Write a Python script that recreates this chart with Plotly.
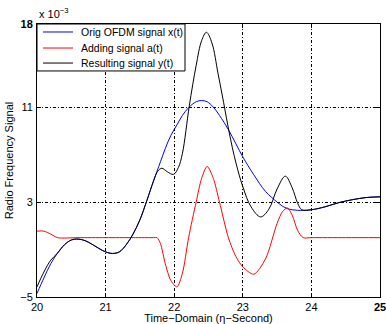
import plotly.graph_objects as go

# Signal samples (amplitude in units of 1e-3) over time (ns)
t_x = [20.0, 20.1, 20.2, 20.3, 20.4, 20.5, 20.6, 20.7, 20.8, 20.9, 21.0, 21.1,
       21.2, 21.3, 21.4, 21.5, 21.6, 21.7, 21.75, 21.8, 21.87, 21.95, 22.04,
       22.12, 22.21, 22.32, 22.4, 22.48, 22.57, 22.66, 22.79, 22.9, 23.0,
       23.16, 23.33, 23.5, 23.58, 23.65, 23.72, 23.8, 23.88, 24.0, 24.2, 24.4,
       24.6, 24.8, 25.0]
x_sig = [-4.7, -3.4, -2.2, -1.3, -0.6, -0.2, -0.12, -0.25, -0.55, -0.9, -1.2,
         -1.33, -1.2, -0.6, 0.3, 1.5, 3.1, 4.8, 5.6, 6.4, 7.5, 8.6, 9.5, 10.3,
         10.95, 11.45, 11.55, 11.45, 11.0, 10.3, 9.1, 7.9, 6.8, 5.3, 3.9, 3.0,
         2.65, 2.45, 2.35, 2.3, 2.3, 2.35, 2.6, 2.95, 3.2, 3.38, 3.44]

t_a = [20.0, 20.1, 20.2, 20.3, 20.6, 21.0, 21.4, 21.7, 21.75, 21.8, 21.87,
       21.95, 22.04, 22.12, 22.21, 22.32, 22.4, 22.48, 22.57, 22.66, 22.79,
       22.9, 23.0, 23.16, 23.33, 23.5, 23.58, 23.65, 23.72, 23.8, 23.88, 24.0,
       24.5, 25.0]
a_sig = [0.55, 0.55, 0.3, 0.0, 0.0, 0.0, 0.0, 0.0, 0.0, -0.5, -2.2, -3.6,
         -4.15, -3.0, 0.0, 3.0, 5.0, 6.0, 5.0, 3.0, 0.0, -1.6, -2.46, -3.08,
         -1.8, 1.2, 2.2, 2.5, 1.9, 0.6, 0.0, 0.0, 0.0, 0.0]

t_y = [20.0, 20.1, 20.2, 20.3, 20.4, 20.5, 20.6, 20.7, 20.8, 20.9, 21.0, 21.1,
       21.2, 21.3, 21.4, 21.5, 21.6, 21.7, 21.76, 21.82, 21.9, 21.99, 22.06,
       22.12, 22.22, 22.32, 22.4, 22.47, 22.55, 22.64, 22.72, 22.8, 22.9, 23.0,
       23.12, 23.26, 23.38, 23.5, 23.62, 23.72, 23.8, 23.86, 24.0, 24.2, 24.4,
       24.6, 24.8, 25.0]
y_sig = [-4.15, -2.9, -1.9, -1.3, -0.6, -0.2, -0.12, -0.25, -0.55, -0.9, -1.2,
         -1.33, -1.2, -0.6, 0.3, 1.5, 3.1, 4.8, 5.6, 5.85, 5.55, 5.33, 5.9,
         7.1, 11.1, 14.5, 16.6, 17.3, 16.4, 13.8, 11.4, 8.9, 6.3, 4.3, 2.6,
         1.75, 2.4, 4.1, 5.18, 4.2, 2.9, 2.35, 2.35, 2.6, 2.95, 3.2, 3.38, 3.44]

series_names = ["Orig OFDM signal x(t)", "Adding signal a(t)", "Resulting signal y(t)"]
series_colors = ["#0000ff", "#ff0000", "#000000"]

x_ticks = [20, 21, 22, 23, 24, 25]
x_ticktext = ["20", "21", "22", "23", "24", "<b>25</b>"]
y_ticks = [-5, 3, 11, 18]
y_ticktext = ["\u22125", "3", "11", "<b>18</b>"]

FONT = "Liberation Sans, Arial, sans-serif"

fig = go.Figure()
for tt, vv, name, color, sm in zip([t_x, t_a, t_y], [x_sig, a_sig, y_sig],
                                   series_names, series_colors, [1.0, 0.8, 1.0]):
    fig.add_trace(go.Scatter(x=tt, y=vv, mode="lines", name=name, showlegend=False,
                             line=dict(color=color, width=1, shape="spline", smoothing=sm)))

axis_common = dict(
    showline=True, linecolor="black", linewidth=1, mirror="ticks",
    ticks="inside", ticklen=4, tickcolor="black", automargin=False,
    ticklabeloverflow="allow",
    showgrid=True, gridcolor="black", gridwidth=1, griddash="3px,2px,1px,2px",
    zeroline=False, tickfont=dict(family=FONT, size=11, color="black"),
)

fig.update_xaxes(range=[20, 25], tickvals=x_ticks, ticktext=x_ticktext,
                 title=dict(text="Time\u2212Domain (\u03b7\u2212Second)",
                            font=dict(family=FONT, size=11, color="black"), standoff=5),
                 **axis_common)
fig.update_yaxes(range=[-5, 18], tickvals=y_ticks, ticktext=y_ticktext,
                 ticklabelstandoff=1,
                 title=dict(text="Radio Frequency Signal",
                            font=dict(family=FONT, size=11, color="black"), standoff=4),
                 **axis_common)

fig.add_annotation(xref="paper", yref="paper", x=0, y=1, xanchor="left", yanchor="bottom",
                   text="x 10<sup>\u22123</sup>", showarrow=False, yshift=2,
                   font=dict(family=FONT, size=11, color="black"))

# Legend panel in the upper-left corner of the axes
leg_right = 0.4315
leg_bottom = 0.828
row_y = [0.9707, 0.912, 0.857]
fig.add_shape(type="rect", xref="paper", yref="paper", x0=0, x1=leg_right,
              y0=leg_bottom, y1=1, fillcolor="white", line=dict(color="black", width=1),
              layer="above")
for ry, name, color in zip(row_y, series_names, series_colors):
    fig.add_shape(type="line", xref="paper", yref="paper", x0=0.0175, x1=0.105,
                  y0=ry, y1=ry, line=dict(color=color, width=1), layer="above")
    fig.add_annotation(xref="paper", yref="paper", x=0.1224, y=ry, xanchor="left",
                       yanchor="middle", text=name, showarrow=False,
                       font=dict(family=FONT, size=10.5, color="black"))

fig.update_layout(
    width=386, height=324,
    margin=dict(l=37, r=6, t=24, b=27),
    paper_bgcolor="white", plot_bgcolor="white",
    font=dict(family=FONT, size=11, color="black"),
    showlegend=False,
)

fig.write_html("out.html")
